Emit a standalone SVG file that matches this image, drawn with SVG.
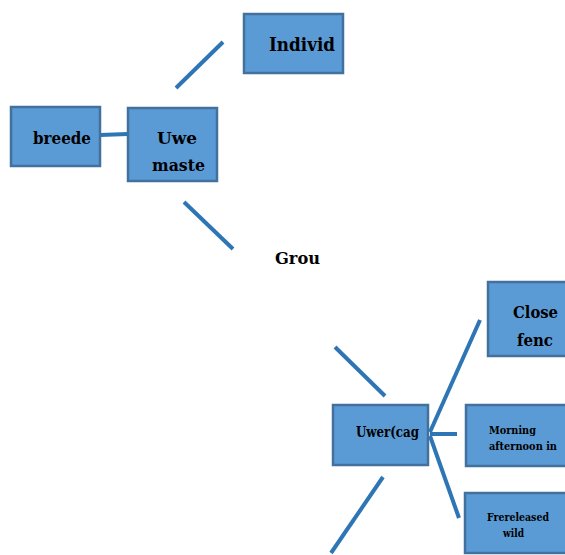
<svg xmlns="http://www.w3.org/2000/svg" width="565" height="555" viewBox="0 0 565 555">
<style>
.box{fill:#5B9BD5;stroke:#41719C;stroke-width:2.5}
.t{font-family:"DejaVu Serif","Liberation Serif",serif;font-weight:bold;fill:#000}
.c{stroke:#2E75B6;stroke-width:4;fill:none}
</style>
<rect width="565" height="555" fill="#fff"/>
<g id="connectors">
<line class="c" x1="100" y1="135" x2="128" y2="134"/>
<line class="c" x1="176" y1="88" x2="223" y2="42"/>
<line class="c" x1="184" y1="202" x2="233" y2="249"/>
<line class="c" x1="335" y1="347" x2="385" y2="396"/>
<line class="c" x1="383" y1="477" x2="331" y2="553"/>
<line class="c" x1="430" y1="432" x2="480" y2="320"/>
<line class="c" x1="430" y1="434" x2="457" y2="434"/>
<line class="c" x1="430" y1="436" x2="459" y2="518"/>
</g>
<g id="individ"><rect class="box" x="244" y="14" width="99" height="59"/><text class="t" x="269" y="51" font-size="18" textLength="66" lengthAdjust="spacingAndGlyphs">Individ</text></g>
<g id="breede"><rect class="box" x="11" y="107" width="89" height="59"/><text class="t" x="33" y="144" font-size="17" textLength="58" lengthAdjust="spacingAndGlyphs">breede</text></g>
<g id="uwe"><rect class="box" x="128" y="108" width="89" height="73"/><text class="t" x="157" y="144" font-size="17" textLength="40" lengthAdjust="spacingAndGlyphs">Uwe</text><text class="t" x="152" y="171" font-size="17" textLength="53" lengthAdjust="spacingAndGlyphs">maste</text></g>
<g id="grou"><text class="t" x="275" y="264" font-size="17" textLength="45" lengthAdjust="spacingAndGlyphs">Grou</text></g>
<g id="close"><rect class="box" x="488" y="282" width="80" height="74"/><text class="t" x="513" y="318" font-size="17" textLength="45" lengthAdjust="spacingAndGlyphs">Close</text><text class="t" x="517" y="346" font-size="17" textLength="36" lengthAdjust="spacingAndGlyphs">fenc</text></g>
<g id="uwer"><rect class="box" x="333" y="405" width="95" height="60"/><text class="t" x="356" y="437" font-size="14" textLength="63" lengthAdjust="spacingAndGlyphs">Uwer(cag</text></g>
<g id="morning"><rect class="box" x="466" y="405" width="102" height="61"/><text class="t" x="489" y="434" font-size="11" textLength="47" lengthAdjust="spacingAndGlyphs">Morning</text><text class="t" x="489" y="450" font-size="11" textLength="68" lengthAdjust="spacingAndGlyphs">afternoon in</text></g>
<g id="free"><rect class="box" x="465" y="493" width="103" height="60"/><text class="t" x="487" y="521" font-size="11" textLength="62" lengthAdjust="spacingAndGlyphs">Frereleased</text><text class="t" x="503" y="537" font-size="11" textLength="21" lengthAdjust="spacingAndGlyphs">wild</text></g>
</svg>
